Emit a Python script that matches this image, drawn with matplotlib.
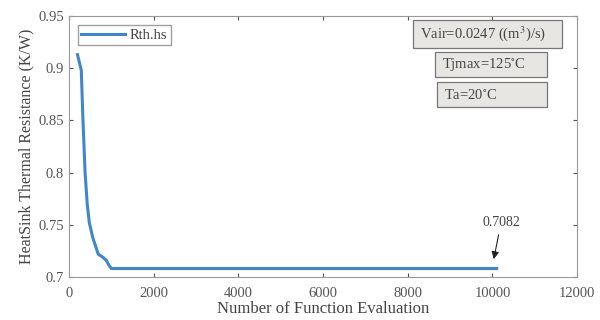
import matplotlib
matplotlib.use("Agg")
import matplotlib.pyplot as plt
from matplotlib.patches import Rectangle

# convergence of heatsink thermal resistance over function evaluations
evals = [200, 290, 330, 380, 430, 480, 560, 690, 800, 880, 950, 1000, 4000, 10100]
rth = [0.913, 0.898, 0.85, 0.80, 0.77, 0.752, 0.738, 0.722, 0.719, 0.716, 0.711, 0.7082, 0.7082, 0.7082]
final_eval = 10000
final_val = 0.7082

xticks = [0, 2000, 4000, 6000, 8000, 10000, 12000]
yticks = [0.7, 0.75, 0.8, 0.85, 0.9, 0.95]
ytick_labels = ["0.7", "0.75", "0.8", "0.85", "0.9", "0.95"]
info_labels = [r"Vair=0.0247 ((m$^3$)/s)", "Tjmax=125$^{\\circ}$C", "Ta=20$^{\\circ}$C"]

plt.rcParams["font.family"] = ["Liberation Serif", "DejaVu Serif"]
plt.rcParams["mathtext.fontset"] = "stix"

fig = plt.figure(figsize=(6, 3.2), dpi=100)
ax = fig.add_axes([0.115, 0.134, 0.847, 0.816])

ax.plot(evals, rth, color="#3f86cc", lw=2.2, label="Rth.hs")
ax.set_xlim(0, 12000)
ax.set_ylim(0.7, 0.95)
ax.set_xticks(xticks)
ax.set_yticks(yticks)
ax.set_yticklabels(ytick_labels)
ax.tick_params(direction="in", top=True, right=True, labelsize=10.5, colors="#555555",
               length=3)
ax.tick_params(axis="x", pad=7)
for s in ax.spines.values():
    s.set_color("#999999")
    s.set_linewidth(0.8)

ax.set_xlabel("Number of Function Evaluation", fontsize=12, color="#444444", labelpad=1)
ax.set_ylabel("HeatSink Thermal Resistance (K/W)", fontsize=11.5, color="#444444", labelpad=3)

leg = ax.legend(loc="upper left", fontsize=10.5, frameon=True, fancybox=False,
                handlelength=3.0, borderpad=0.25, handletextpad=0.3,
                borderaxespad=0.6, labelcolor="#444444")
leg.get_frame().set_edgecolor("#888888")

ax.annotate(f"{final_val:.4f}", xy=(final_eval + 30, final_val + 0.009),
            xytext=(final_eval + 200, 0.752), fontsize=10, color="#444444", ha="center",
            va="center",
            arrowprops=dict(arrowstyle="-|>", color="#222222", lw=0.8, mutation_scale=11,
                            shrinkA=2, shrinkB=0))

# parameter boxes in axes coordinates: x0, y0, width, height
boxes = [(0.677, 0.877, 0.293, 0.108), (0.720, 0.766, 0.221, 0.096), (0.724, 0.651, 0.217, 0.096)]
for (x0, y0, w, h), label in zip(boxes, info_labels):
    ax.add_patch(Rectangle((x0, y0), w, h, transform=ax.transAxes, facecolor="#e8e6e2",
                           edgecolor="#777777", lw=0.9, zorder=3))
    ax.text(x0 + 0.013, y0 + h / 2, label, transform=ax.transAxes, fontsize=10.5,
            color="#444444", ha="left", va="center", zorder=4)

fig.savefig("out.png", dpi=100)
